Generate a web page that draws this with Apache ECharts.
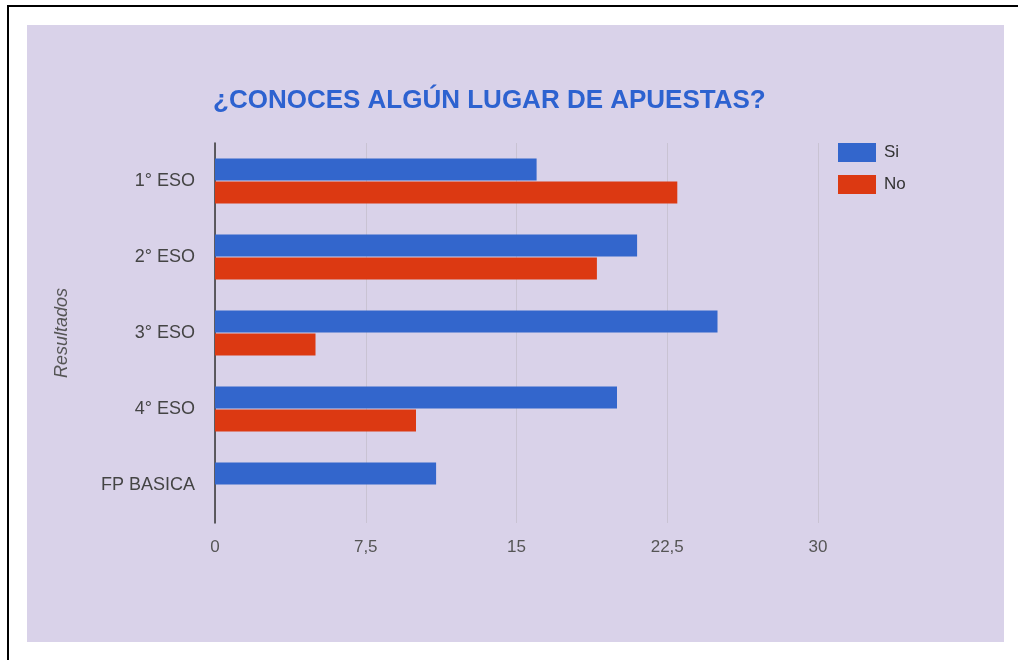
<!DOCTYPE html>
<html>
<head>
<meta charset="utf-8">
<script src="https://cdn.jsdelivr.net/npm/echarts@6/dist/echarts.min.js"></script>
<style>
  html, body { margin: 0; padding: 0; background: #ffffff; }
  #frame {
    position: absolute; left: 7px; top: 5px; right: 0; bottom: 0;
    border-top: 2px solid #000; border-left: 2px solid #000;
  }
  #panel {
    position: absolute; left: 27px; top: 25px; width: 977px; height: 617px;
    background: #d9d2e9;
  }
  #chart { position: absolute; left: 0; top: 0; width: 1018px; height: 660px; }
</style>
</head>
<body>
<div id="frame"></div>
<div id="panel"></div>
<div id="chart"></div>
<script>
  const categories = ['1° ESO', '2° ESO', '3° ESO', '4° ESO', 'FP BASICA'];
  const siValues = [16, 21, 25, 20, 11];
  const noValues = [23, 19, 5, 10, 0];
  const titleText = '¿CONOCES ALGÚN LUGAR DE APUESTAS?';
  const axisTitle = 'Resultados';

  const FONT = "'Liberation Sans', Arial, sans-serif";
  const chart = echarts.init(document.getElementById('chart'));

  chart.setOption({
    animation: false,
    backgroundColor: 'transparent',
    textStyle: { fontFamily: FONT },
    title: {
      text: titleText,
      left: 208,
      top: 83,
      textStyle: {
        fontFamily: FONT,
        fontSize: 26,
        fontWeight: 'bold',
        color: '#2d62d0',
      },
    },
    legend: {
      orient: 'vertical',
      left: 833,
      top: 138,
      itemWidth: 38,
      itemHeight: 19,
      itemGap: 13,
      icon: 'rect',
      textStyle: { fontFamily: FONT, fontSize: 17, color: '#333', padding: [0, 0, 0, 3] },
      data: ['Si', 'No'],
    },
    grid: {
      left: 215,
      right: 200,
      top: 143,
      bottom: 137,
    },
    xAxis: {
      type: 'value',
      min: 0,
      max: 30,
      interval: 7.5,
      axisLine: { show: false },
      axisTick: { show: false },
      axisLabel: {
        color: '#555',
        fontSize: 17,
        margin: 16,
        formatter: (v) => String(v).replace('.', ','),
      },
      splitLine: { lineStyle: { color: '#c9c3d3', width: 1 } },
    },
    yAxis: {
      type: 'category',
      inverse: true,
      data: categories,
      name: axisTitle,
      nameLocation: 'middle',
      nameRotate: 90,
      nameGap: 144,
      nameTextStyle: { fontFamily: FONT, fontSize: 18, fontStyle: 'italic', color: '#555' },
      axisLine: { lineStyle: { color: '#333', width: 1.5 } },
      axisTick: { show: false },
      axisLabel: { color: '#444', fontSize: 18, margin: 20 },
    },
    series: [
      {
        name: 'Si',
        type: 'bar',
        data: siValues,
        barWidth: 22,
        barGap: '5%',
        itemStyle: { color: '#3366cc' },
      },
      {
        name: 'No',
        type: 'bar',
        data: noValues,
        barWidth: 22,
        itemStyle: { color: '#dc3912' },
      },
    ],
  });
</script>
</body>
</html>
